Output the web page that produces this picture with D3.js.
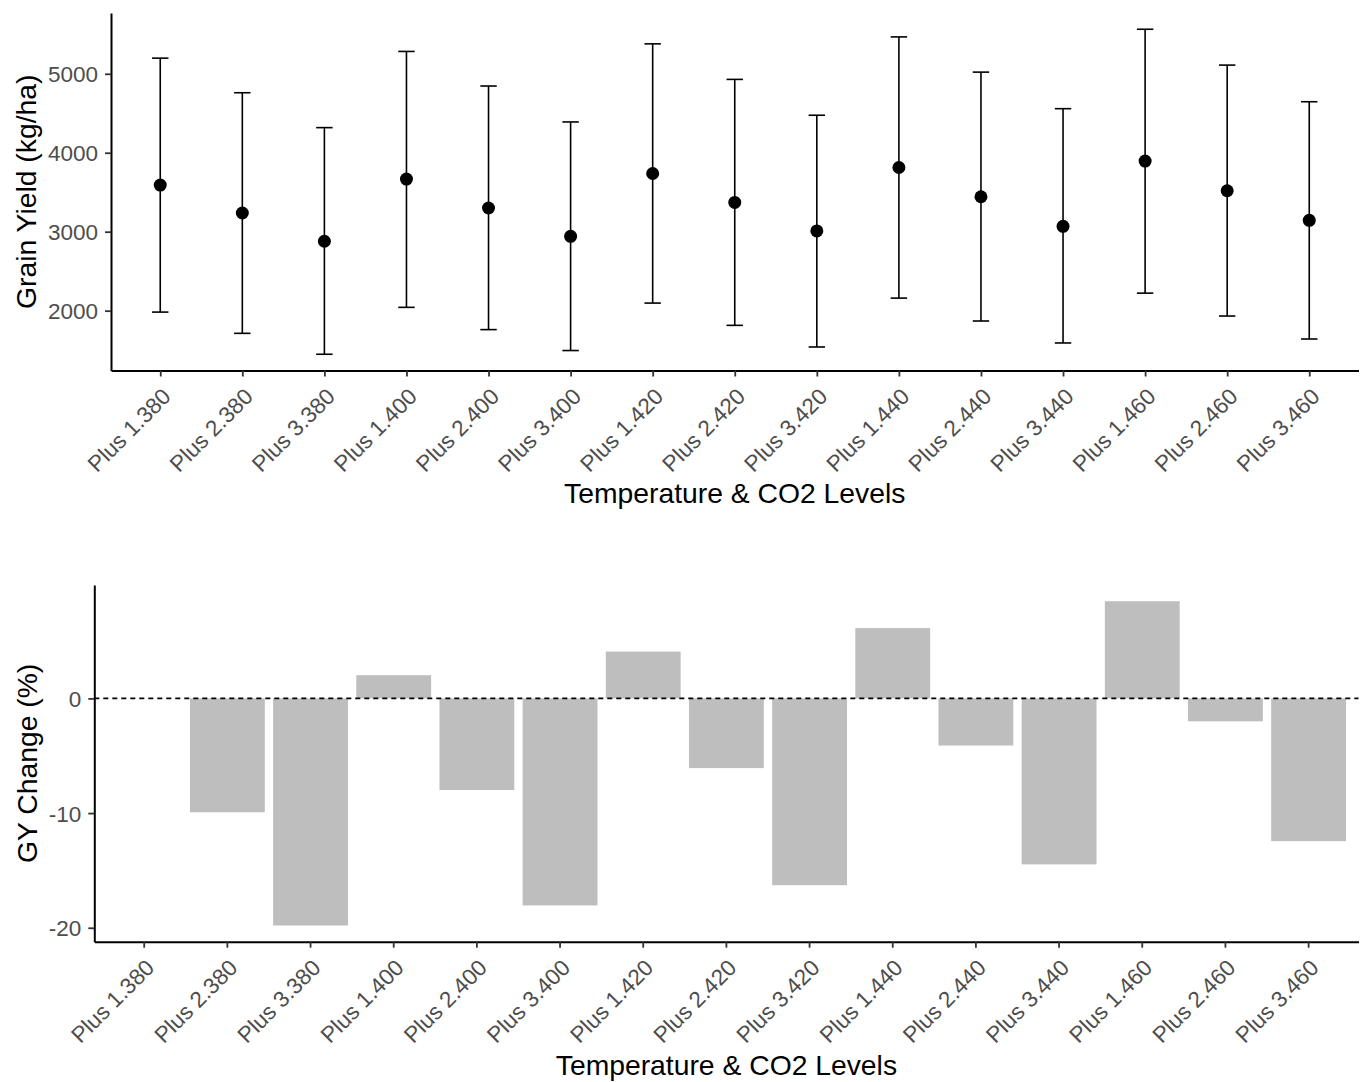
<!DOCTYPE html>
<html>
<head>
<meta charset="utf-8">
<script src="https://cdn.jsdelivr.net/npm/d3@7"></script>
<style>
  body { margin: 0; background: #fff; }
  svg { display: block; font-family: "Liberation Sans", Arial, sans-serif; }
  .axis .domain { stroke: #000; stroke-width: 2; }
  .axis .tick line { stroke: #333; stroke-width: 1.8; }
  .axis .tick text { fill: #4d4d4d; font-size: 22.5px; }
</style>
</head>
<body>
<svg id="chart"></svg>
<script>
// data
const levels = ["Plus 1.380", "Plus 2.380", "Plus 3.380", "Plus 1.400", "Plus 2.400", "Plus 3.400",
  "Plus 1.420", "Plus 2.420", "Plus 3.420", "Plus 1.440", "Plus 2.440", "Plus 3.440",
  "Plus 1.460", "Plus 2.460", "Plus 3.460"];
const meanYield = [3591, 3237, 2879, 3667, 3300, 2942, 3737, 3371, 3010, 3813, 3443, 3068, 3894, 3519, 3144];
const upperYield = [5198, 4760, 4318, 5283, 4845, 4390, 5379, 4929, 4475, 5467, 5021, 4558, 5564, 5110, 4646];
const lowerYield = [1982, 1713, 1448, 2042, 1760, 1495, 2096, 1814, 1540, 2159, 1869, 1591, 2222, 1932, 1641];
const gyChange = [0, -9.93, -19.8, 2.02, -7.99, -18.05, 4.08, -6.08, -16.29, 6.13, -4.11, -14.47, 8.47, -2.0, -12.45];
const yieldTicks = [2000, 3000, 4000, 5000];
const changeTicks = [-20, -10, 0];

const width = 1363, height = 1082;
const svg = d3.select("#chart").attr("width", width).attr("height", height);

// ggplot-like 5% expansion of a continuous range
function expand(lo, hi) {
  const pad = (hi - lo) * 0.05;
  return [lo - pad, hi + pad];
}

function rotatedLabels(g, dx, dy) {
  g.selectAll(".tick text")
    .attr("text-anchor", "end")
    .attr("x", 0).attr("y", 0)
    .attr("dy", "0.72em")
    .attr("transform", "translate(" + dx + "," + dy + ") rotate(-45)");
}

// ---------- top panel: grain yield with error bars ----------
const upper = { left: 111, right: 1358.5, top: 13, bottom: 370.5 };

const xTop = d3.scalePoint()
  .domain(levels)
  .range([upper.left, upper.right])
  .padding(0.6);

const yTop = d3.scaleLinear()
  .domain(expand(d3.min(lowerYield), d3.max(upperYield)))
  .range([upper.bottom, upper.top]);

const capHalf = xTop.step() * 0.1;

const bars = svg.append("g");
levels.forEach((lv, i) => {
  const x = xTop(lv);
  bars.append("line")
    .attr("x1", x).attr("x2", x)
    .attr("y1", yTop(lowerYield[i])).attr("y2", yTop(upperYield[i]))
    .attr("stroke", "#000").attr("stroke-width", 1.6);
  [lowerYield[i], upperYield[i]].forEach(v => {
    bars.append("line")
      .attr("x1", x - capHalf).attr("x2", x + capHalf)
      .attr("y1", yTop(v)).attr("y2", yTop(v))
      .attr("stroke", "#000").attr("stroke-width", 1.6);
  });
});

svg.append("g")
  .selectAll("circle")
  .data(levels)
  .join("circle")
  .attr("cx", d => xTop(d))
  .attr("cy", (d, i) => yTop(meanYield[i]))
  .attr("r", 6.5)
  .attr("fill", "#000");

svg.append("g")
  .attr("class", "axis")
  .attr("transform", "translate(0," + upper.bottom + ")")
  .call(d3.axisBottom(xTop).tickSize(6).tickSizeOuter(0))
  .call(g => rotatedLabels(g, 0, 16));

svg.append("g")
  .attr("class", "axis")
  .attr("transform", "translate(" + upper.left + ",0)")
  .call(d3.axisLeft(yTop).tickValues(yieldTicks).tickFormat(d => String(d)).tickSize(6).tickSizeOuter(0).tickPadding(7))
  .call(g => g.selectAll(".tick text").attr("dy", "0.36em"));

svg.append("text")
  .attr("x", (upper.left + upper.right) / 2)
  .attr("y", 503)
  .attr("text-anchor", "middle")
  .attr("font-size", 28.3)
  .text("Temperature & CO2 Levels");

svg.append("text")
  .attr("transform", "translate(36," + (upper.top + upper.bottom) / 2 + ") rotate(-90)")
  .attr("text-anchor", "middle")
  .attr("font-size", 28.3)
  .text("Grain Yield (kg/ha)");

// ---------- bottom panel: GY change bars ----------
const lower = { left: 94.3, right: 1358.5, top: 585, bottom: 941.7 };

const xBot = d3.scaleBand()
  .domain(levels)
  .range([lower.left, lower.right])
  .paddingInner(0.1)
  .paddingOuter(0.15);

const yBot = d3.scaleLinear()
  .domain(expand(Math.min(0, d3.min(gyChange)), Math.max(0, d3.max(gyChange))))
  .range([lower.bottom, lower.top]);

svg.append("g")
  .selectAll("rect")
  .data(levels)
  .join("rect")
  .attr("x", d => xBot(d))
  .attr("width", xBot.bandwidth())
  .attr("y", (d, i) => yBot(Math.max(0, gyChange[i])))
  .attr("height", (d, i) => Math.abs(yBot(gyChange[i]) - yBot(0)))
  .attr("fill", "#bebebe");

svg.append("line")
  .attr("x1", lower.left).attr("x2", lower.right)
  .attr("y1", yBot(0)).attr("y2", yBot(0))
  .attr("stroke", "#000")
  .attr("stroke-width", 1.6)
  .attr("stroke-dasharray", "5,4");

svg.append("g")
  .attr("class", "axis")
  .attr("transform", "translate(0," + lower.bottom + ")")
  .call(d3.axisBottom(xBot).tickSize(6).tickSizeOuter(0))
  .call(g => rotatedLabels(g, 0, 16));

svg.append("g")
  .attr("class", "axis")
  .attr("transform", "translate(" + lower.left + ",0)")
  .call(d3.axisLeft(yBot).tickValues(changeTicks).tickFormat(d => String(d)).tickSize(6).tickSizeOuter(0).tickPadding(7))
  .call(g => g.selectAll(".tick text").attr("dy", "0.36em"));

svg.append("text")
  .attr("x", (lower.left + lower.right) / 2)
  .attr("y", 1075)
  .attr("text-anchor", "middle")
  .attr("font-size", 28.3)
  .text("Temperature & CO2 Levels");

svg.append("text")
  .attr("transform", "translate(37," + (lower.top + lower.bottom) / 2 + ") rotate(-90)")
  .attr("text-anchor", "middle")
  .attr("font-size", 28.3)
  .text("GY Change (%)");
</script>
</body>
</html>
